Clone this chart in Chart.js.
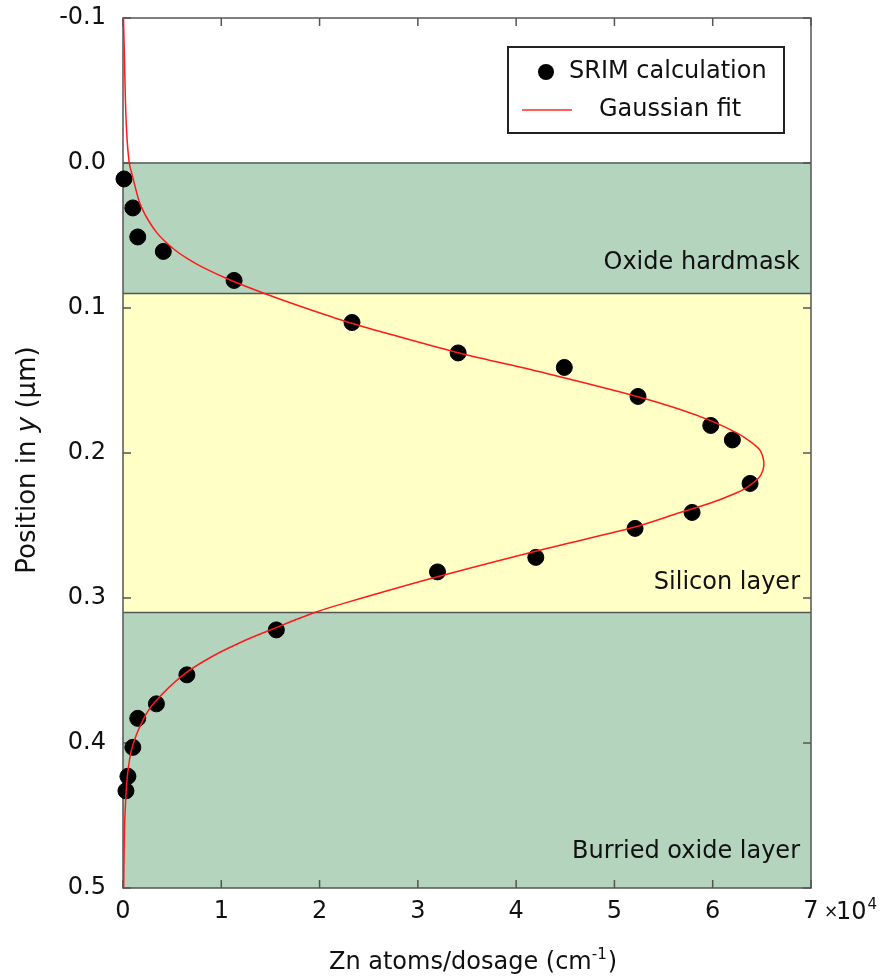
<!DOCTYPE html>
<html>
<head>
<meta charset="utf-8">
<script src="https://cdn.jsdelivr.net/npm/chart.js@4.4.0/dist/chart.umd.min.js"></script>
<style>
html,body{margin:0;padding:0;background:#ffffff;}
#wrap{width:881px;height:979px;position:relative;}
</style>
</head>
<body>
<div id="wrap"><canvas id="c"></canvas></div>
<script>
// ---- Data (x values in units of 10^4 cm^-1, y in µm) ----
const srimX = [0.01, 0.10, 0.15, 0.41, 1.13, 2.33, 3.41, 4.49, 5.24, 5.98, 6.20, 6.38, 5.79, 5.21, 4.20, 3.20, 1.56, 0.65, 0.34, 0.15, 0.10, 0.05, 0.03];
const srimY = [0.011, 0.031, 0.051, 0.061, 0.081, 0.110, 0.131, 0.141, 0.161, 0.181, 0.191, 0.221, 0.241, 0.252, 0.272, 0.282, 0.322, 0.353, 0.373, 0.383, 0.403, 0.423, 0.433];

const fitY = [-0.100, -0.080, -0.062, -0.045, -0.032, -0.015, 0.000, 0.010, 0.0255, 0.032, 0.040, 0.048, 0.054, 0.060, 0.066, 0.072, 0.0807, 0.090, 0.0997, 0.110, 0.120, 0.131, 0.145, 0.161, 0.170, 0.178, 0.186, 0.192, 0.198, 0.206, 0.212, 0.217, 0.224, 0.229, 0.234, 0.241, 0.251, 0.266, 0.2855, 0.303, 0.310, 0.322, 0.329, 0.340, 0.353, 0.372, 0.384, 0.403, 0.423, 0.448, 0.470, 0.500];
const fitX = [0.005, 0.012, 0.018, 0.024, 0.030, 0.043, 0.064, 0.100, 0.160, 0.198, 0.262, 0.343, 0.426, 0.528, 0.656, 0.812, 1.09, 1.44, 1.84, 2.30, 2.82, 3.42, 4.30, 5.23, 5.67, 5.99, 6.24, 6.38, 6.48, 6.52, 6.51, 6.47, 6.34, 6.19, 6.00, 5.67, 5.21, 4.30, 3.19, 2.28, 1.95, 1.50, 1.25, 0.916, 0.614, 0.32, 0.204, 0.093, 0.044, 0.021, 0.012, 0.007];

const xTickValues = [0, 1, 2, 3, 4, 5, 6, 7];
const yTickValues = [-0.1, 0.0, 0.1, 0.2, 0.3, 0.4, 0.5];
const xMultiplier = ['×', '10', '4'];

const layerNames = ['Oxide hardmask', 'Silicon layer', 'Burried oxide layer'];
const layerBounds = [0.0, 0.09, 0.31, 0.5];

const seriesNames = ['SRIM calculation', 'Gaussian fit'];
const xTitle = 'Zn atoms/dosage (cm';
const xTitleSup = '-1';
const yTitleParts = ['Position in ', 'y', ' (μm)'];

// ---- Styles ----
const layerColors = ['#b4d4be', '#ffffc6', '#b4d4be'];
const layerLabelLift = [31, 30, 36];
const frameColor = '#555555';
const FONT = '"DejaVu Sans", sans-serif';

const srimData = srimX.map((v, i) => ({x: v, y: srimY[i]}));
const fitData = fitX.map((v, i) => ({x: v, y: fitY[i]}));

const decor = {
  id: 'decor',
  beforeDatasetsDraw(chart) {
    const {ctx, chartArea: a, scales: {x, y}} = chart;
    ctx.save();
    for (let i = 0; i < layerNames.length; i++) {
      const y0 = y.getPixelForValue(layerBounds[i]);
      const y1 = y.getPixelForValue(layerBounds[i + 1]);
      ctx.fillStyle = layerColors[i];
      ctx.fillRect(a.left, y0, a.right - a.left, y1 - y0);
    }
    ctx.strokeStyle = frameColor;
    ctx.lineWidth = 1.5;
    for (let i = 0; i < layerBounds.length - 1; i++) {
      const py = y.getPixelForValue(layerBounds[i]);
      ctx.beginPath(); ctx.moveTo(a.left, py); ctx.lineTo(a.right, py); ctx.stroke();
    }
    ctx.fillStyle = '#111111';
    ctx.font = '24px ' + FONT;
    ctx.textAlign = 'right';
    ctx.textBaseline = 'middle';
    for (let i = 0; i < layerNames.length; i++) {
      const yb = y.getPixelForValue(layerBounds[i + 1]);
      ctx.fillText(layerNames[i], a.right - 11, yb - layerLabelLift[i]);
    }
    ctx.strokeStyle = frameColor;
    ctx.lineWidth = 1.5;
    ctx.strokeRect(a.left, a.top, a.right - a.left, a.bottom - a.top);
    const tl = 8;
    ctx.beginPath();
    xTickValues.forEach(v => {
      const px = x.getPixelForValue(v);
      ctx.moveTo(px, a.bottom); ctx.lineTo(px, a.bottom - tl);
      ctx.moveTo(px, a.top); ctx.lineTo(px, a.top + tl);
    });
    yTickValues.forEach(v => {
      const py = y.getPixelForValue(v);
      ctx.moveTo(a.left, py); ctx.lineTo(a.left + tl, py);
      ctx.moveTo(a.right, py); ctx.lineTo(a.right - tl, py);
    });
    ctx.stroke();
    ctx.restore();
  },
  afterDraw(chart) {
    const {ctx, chartArea: a, scales: {x, y}} = chart;
    ctx.save();
    ctx.fillStyle = '#111111';
    // ×10^4 next to last x tick label
    const lastPx = x.getPixelForValue(xTickValues[xTickValues.length - 1]);
    ctx.textAlign = 'left';
    ctx.textBaseline = 'alphabetic';
    const base = a.bottom + 31;
    ctx.font = '17px ' + FONT;
    ctx.fillText(xMultiplier[0], lastPx + 13, base - 2);
    ctx.font = '24px ' + FONT;
    ctx.fillText(xMultiplier[1], lastPx + 25, base);
    const w10 = ctx.measureText(xMultiplier[1]).width;
    ctx.font = '15px ' + FONT;
    ctx.fillText(xMultiplier[2], lastPx + 25 + w10 + 1, base - 10);

    // x title
    ctx.font = '24px ' + FONT;
    const w1 = ctx.measureText(xTitle).width;
    ctx.font = '15px ' + FONT;
    const w2 = ctx.measureText(xTitleSup).width;
    ctx.font = '24px ' + FONT;
    const w3 = ctx.measureText(')').width;
    const cx = 473;
    const sx = cx - (w1 + w2 + w3 + 1) / 2;
    const tb = 969;
    ctx.fillText(xTitle, sx, tb);
    ctx.font = '15px ' + FONT;
    ctx.fillText(xTitleSup, sx + w1, tb - 10);
    ctx.font = '24px ' + FONT;
    ctx.fillText(')', sx + w1 + w2 + 1, tb);

    // y title (rotated, italic y)
    ctx.save();
    ctx.translate(35, 460);
    ctx.rotate(-Math.PI / 2);
    const fonts = ['26px ' + FONT, 'italic 26px ' + FONT, '26px ' + FONT];
    let tot = 0;
    const ws = yTitleParts.map((t, i) => { ctx.font = fonts[i]; const w = ctx.measureText(t).width; tot += w; return w; });
    let px = -tot / 2;
    yTitleParts.forEach((t, i) => { ctx.font = fonts[i]; ctx.fillText(t, px, 0); px += ws[i]; });
    ctx.restore();

    // legend
    const L = {l: 508, t: 47, r: 784, b: 133};
    ctx.fillStyle = '#ffffff';
    ctx.fillRect(L.l, L.t, L.r - L.l, L.b - L.t);
    ctx.strokeStyle = '#222222';
    ctx.lineWidth = 2;
    ctx.strokeRect(L.l, L.t, L.r - L.l, L.b - L.t);
    ctx.fillStyle = '#000000';
    ctx.beginPath(); ctx.arc(546, 72, 8, 0, Math.PI * 2); ctx.fill();
    ctx.strokeStyle = '#ff2a2a';
    ctx.lineWidth = 1.5;
    ctx.beginPath(); ctx.moveTo(522, 110); ctx.lineTo(572, 110); ctx.stroke();
    ctx.fillStyle = '#111111';
    ctx.font = '24px ' + FONT;
    ctx.textAlign = 'left';
    ctx.textBaseline = 'middle';
    ctx.fillText(seriesNames[0], 569, 72);
    ctx.fillText(seriesNames[1], 599, 110);
    ctx.restore();
  }
};

new Chart(document.getElementById('c'), {
  type: 'scatter',
  data: {
    datasets: [
      {
        label: seriesNames[1],
        type: 'line',
        data: fitData,
        borderColor: '#ff1a1a',
        borderWidth: 1.5,
        pointRadius: 0,
        fill: false,
        tension: 0.3,
        clip: false,
        order: 0
      },
      {
        label: seriesNames[0],
        data: srimData,
        backgroundColor: '#000000',
        borderColor: '#000000',
        pointRadius: 8,
        pointHoverRadius: 8,
        showLine: false,
        clip: false,
        order: 1
      }
    ]
  },
  options: {
    responsive: true,
    maintainAspectRatio: false,
    animation: false,
    events: [],
    layout: {padding: {left: 0, right: 70, top: 18, bottom: 0}},
    plugins: {legend: {display: false}, tooltip: {enabled: false}},
    scales: {
      x: {
        type: 'linear',
        min: 0, max: 7,
        afterFit(s) { s.height = 91; s.paddingLeft = 0; s.paddingRight = 0; },
        afterBuildTicks(s) { s.ticks = xTickValues.map(v => ({value: v})); },
        grid: {display: false, drawTicks: false},
        border: {display: false},
        ticks: {
          padding: 9,
          color: '#111111',
          font: {family: 'DejaVu Sans', size: 24},
          callback: v => String(v)
        }
      },
      y: {
        type: 'linear',
        reverse: true,
        min: -0.1, max: 0.5,
        afterFit(s) { s.width = 123; s.paddingTop = 0; s.paddingBottom = 0; },
        afterBuildTicks(s) { s.ticks = yTickValues.map(v => ({value: v})); },
        grid: {display: false, drawTicks: false},
        border: {display: false},
        ticks: {
          padding: 17,
          color: '#111111',
          font: {family: 'DejaVu Sans', size: 24},
          callback: v => (Math.round(v * 10) / 10).toFixed(1)
        }
      }
    }
  },
  plugins: [decor]
});
</script>
</body>
</html>
